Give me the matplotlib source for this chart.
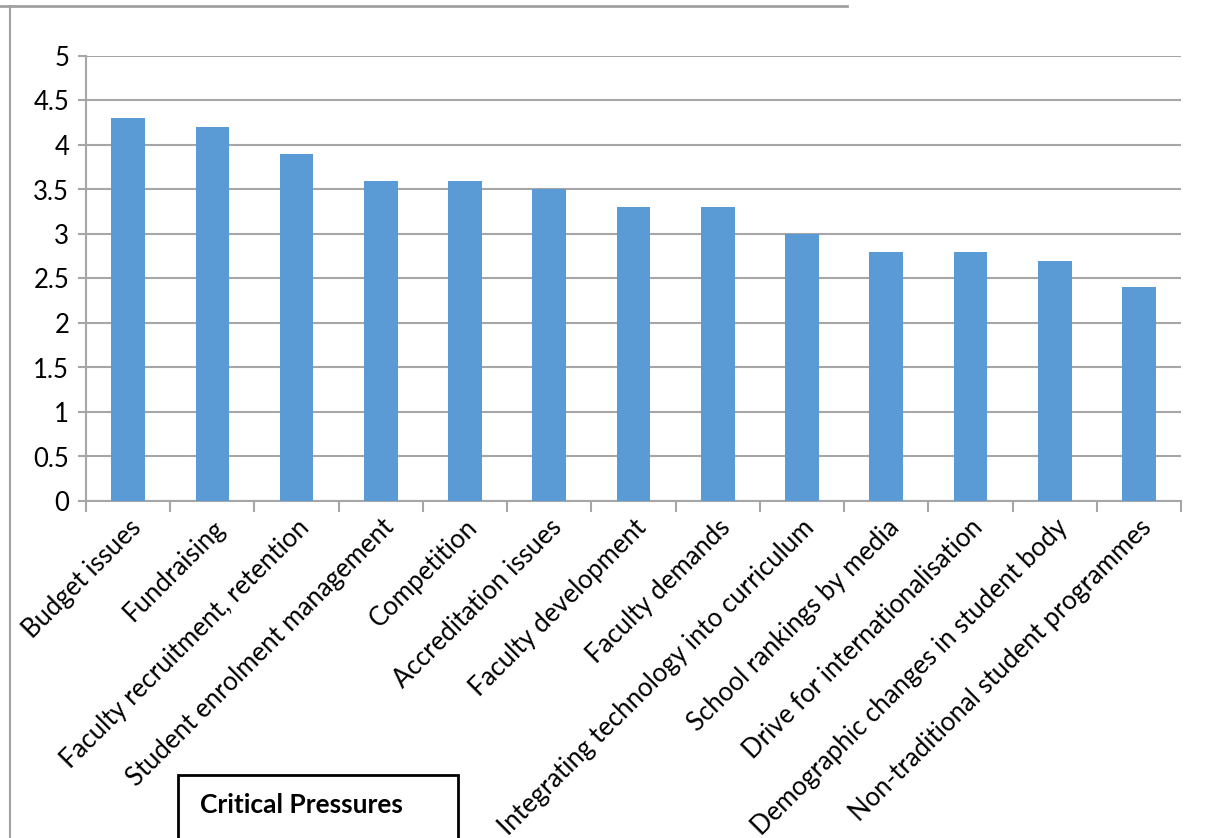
import matplotlib
matplotlib.use("Agg")
import matplotlib.pyplot as plt
from matplotlib.patches import Rectangle
from matplotlib.lines import Line2D

plt.rcParams['font.family'] = ['Lato', 'DejaVu Sans']

categories = [
    "Budget issues",
    "Fundraising",
    "Faculty recruitment, retention",
    "Student enrolment management",
    "Competition",
    "Accreditation issues",
    "Faculty development",
    "Faculty demands",
    "Integrating technology into curriculum",
    "School rankings by media",
    "Drive for internationalisation",
    "Demographic changes in student body",
    "Non-traditional student programmes",
]
scores = [4.3, 4.2, 3.9, 3.6, 3.6, 3.5, 3.3, 3.3, 3.0, 2.8, 2.8, 2.7, 2.4]
y_ticks = [0, 0.5, 1, 1.5, 2, 2.5, 3, 3.5, 4, 4.5, 5]
legend_title = "Critical Pressures"

bar_color = "#5B9BD5"
grid_color = "#A6A6A6"

fig = plt.figure(figsize=(12.08, 8.38), dpi=100)
ax = fig.add_axes([86 / 1208, (838 - 501) / 838, (1181 - 86) / 1208, (501 - 56) / 838])

x = list(range(len(categories)))
ax.bar(x, scores, width=0.4, color=bar_color, zorder=3)

ax.set_xlim(-0.5, len(categories) - 0.5)
ax.set_ylim(0, 5)
ax.set_yticks(y_ticks)
ax.set_yticklabels([f"{v:g}" for v in y_ticks], fontsize=18.5)
ax.yaxis.grid(True, color=grid_color, linewidth=1.5, zorder=0)

# category labels on centres, tick marks on the boundaries between bars
ax.set_xticks(x)
ax.set_xticklabels(categories, rotation=45, ha="right", rotation_mode="anchor", fontsize=18.5)
ax.tick_params(axis="x", which="major", length=0, pad=10)
ax.set_xticks([i - 0.5 for i in range(len(categories) + 1)], minor=True)
ax.tick_params(axis="x", which="minor", length=8, width=1.5, color=grid_color)
ax.tick_params(axis="y", length=6, width=1.5, color=grid_color, pad=6)

for side in ["top", "right"]:
    ax.spines[side].set_visible(False)
for side in ["left", "bottom"]:
    ax.spines[side].set_color(grid_color)
    ax.spines[side].set_linewidth(1.5)

# chart frame edges
fig.add_artist(Line2D([0, 847 / 1208], [1 - 6 / 838, 1 - 6 / 838], color="#A0A0A0", linewidth=2))
fig.add_artist(Line2D([10 / 1208, 10 / 1208], [0, 1 - 6 / 838], color="#A0A0A0", linewidth=1.5))

# title box
fig.add_artist(Rectangle((178 / 1208, -0.02), 280 / 1208, (838 - 775) / 838 + 0.02,
                         transform=fig.transFigure, fill=False, edgecolor="black", linewidth=2))
fig.text(200 / 1208, (838 - 805) / 838, legend_title, fontsize=19, fontweight="bold", va="center")

fig.savefig("out.png", dpi=100)
